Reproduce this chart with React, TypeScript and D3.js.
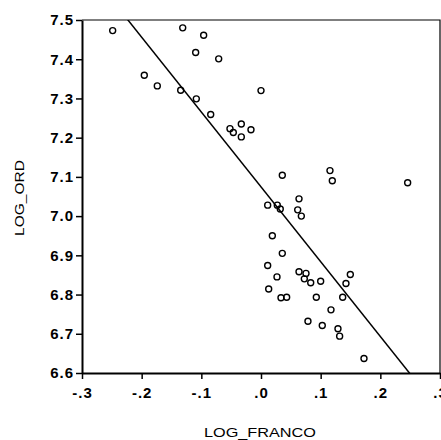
import React, { useRef, useEffect } from "react";
import * as d3 from "d3";

// LOG_FRANCO values
const logFranco = [
  -0.2486, -0.1956, -0.1738, -0.1312, -0.0961, -0.1095, -0.0709, -0.1346, -0.1084, -0.0843,
  0.0, -0.052, -0.0464, -0.033, -0.033, -0.0168, 0.0357, 0.1156, 0.1195, 0.2458,
  0.0112, 0.0273, 0.0323, 0.0637, 0.0615, 0.0676,
  0.019, 0.0357, 0.0112, 0.0268, 0.0129, 0.0335, 0.043, 0.0637, 0.0754, 0.0726,
  0.0833, 0.1, 0.0927, 0.0787, 0.1027, 0.1173, 0.129, 0.1318, 0.1369, 0.1424,
  0.1497, 0.1726,
];
// LOG_ORD values
const logOrd = [
  7.473, 7.359, 7.332, 7.48, 7.461, 7.417, 7.401, 7.321, 7.299, 7.259,
  7.32, 7.223, 7.213, 7.235, 7.202, 7.22, 7.104, 7.116, 7.09, 7.085,
  7.028, 7.028, 7.018, 7.044, 7.016, 7.0,
  6.95, 6.905, 6.874, 6.845, 6.814, 6.792, 6.793, 6.858, 6.854, 6.84,
  6.83, 6.834, 6.793, 6.732, 6.721, 6.761, 6.713, 6.694, 6.793, 6.828,
  6.851, 6.637,
];
const xTicks = [-0.3, -0.2, -0.1, 0, 0.1, 0.2, 0.3];
const xTickLabels = ["-.3", "-.2", "-.1", ".0", ".1", ".2", ".3"];
const yTicks = [6.6, 6.7, 6.8, 6.9, 7.0, 7.1, 7.2, 7.3, 7.4, 7.5];
// fitted line: y = a + b * x
const fitIntercept = 7.0746;
const fitSlope = -1.9075;

const App = () => {
  const svgRef = useRef<SVGSVGElement>(null);
  useEffect(() => {
    const width = 441;
    const height = 440;
    const left = 82;
    const right = 440;
    const top = 20;
    const bottom = 373;

    const svg = d3.select(svgRef.current);
    svg.selectAll("*").remove();
    svg.attr("width", width).attr("height", height);

    const x = d3.scaleLinear().domain([-0.3, 0.3]).range([left, right]);
    const y = d3.scaleLinear().domain([6.6, 7.5]).range([bottom, top]);

    const font = "'Liberation Sans', Arial, sans-serif";

    // frame (top + right thin)
    svg
      .append("path")
      .attr("d", `M${left},${top}H${right}V${bottom}`)
      .attr("fill", "none")
      .attr("stroke", "#000")
      .attr("stroke-width", 1.2);

    // x axis
    const xAxis = svg
      .append("g")
      .attr("transform", `translate(0,${bottom})`)
      .call(
        d3
          .axisBottom(x)
          .tickValues(xTicks)
          .tickSize(6)
          .tickSizeOuter(0)
          .tickFormat((d, i) => xTickLabels[i])
      );
    xAxis.select(".domain").attr("stroke-width", 2);
    xAxis.selectAll(".tick line").attr("stroke-width", 1.5);
    xAxis
      .selectAll("text")
      .attr("font-family", font)
      .attr("font-weight", "bold")
      .attr("font-size", 15)
      .attr("letter-spacing", 1)
      .attr("dy", "1.05em");

    // y axis
    const yAxis = svg
      .append("g")
      .attr("transform", `translate(${left},0)`)
      .call(
        d3
          .axisLeft(y)
          .tickValues(yTicks)
          .tickSize(6)
          .tickSizeOuter(0)
          .tickFormat(d3.format(".1f"))
      );
    yAxis.select(".domain").attr("stroke-width", 2);
    yAxis.selectAll(".tick line").attr("stroke-width", 1.5);
    yAxis
      .selectAll("text")
      .attr("font-family", font)
      .attr("font-weight", "bold")
      .attr("font-size", 15)
      .attr("letter-spacing", 1)
      .attr("x", -8);

    // regression line, clipped to plot
    svg
      .append("clipPath")
      .attr("id", "plotclip")
      .append("rect")
      .attr("x", left)
      .attr("y", top)
      .attr("width", right - left)
      .attr("height", bottom - top);
    const line = d3
      .line<number>()
      .x((d) => x(d))
      .y((d) => y(fitIntercept + fitSlope * d));
    svg
      .append("path")
      .attr("d", line([-0.3, 0.3]))
      .attr("clip-path", "url(#plotclip)")
      .attr("fill", "none")
      .attr("stroke", "#000")
      .attr("stroke-width", 1.5);

    // points
    svg
      .append("g")
      .selectAll("circle")
      .data(logFranco.map((d, i) => [d, logOrd[i]]))
      .enter()
      .append("circle")
      .attr("cx", (d) => x(d[0]))
      .attr("cy", (d) => y(d[1]))
      .attr("r", 3)
      .attr("fill", "none")
      .attr("stroke", "#000")
      .attr("stroke-width", 1.4);

    // axis titles
    svg
      .append("text")
      .attr("x", 260)
      .attr("y", 437)
      .attr("text-anchor", "middle")
      .attr("font-family", font)
      .attr("font-size", 13)
      .attr("textLength", 112)
      .attr("lengthAdjust", "spacingAndGlyphs")
      .text("LOG_FRANCO");

    svg
      .append("text")
      .attr("transform", "translate(24,198) rotate(-90)")
      .attr("text-anchor", "middle")
      .attr("font-family", font)
      .attr("font-size", 13)
      .attr("textLength", 76)
      .attr("lengthAdjust", "spacingAndGlyphs")
      .text("LOG_ORD");
  }, []);

  return (
    <div style={{ position: "absolute", left: 0, top: 0 }}>
      <svg ref={svgRef}></svg>
    </div>
  );
};

export default App;
